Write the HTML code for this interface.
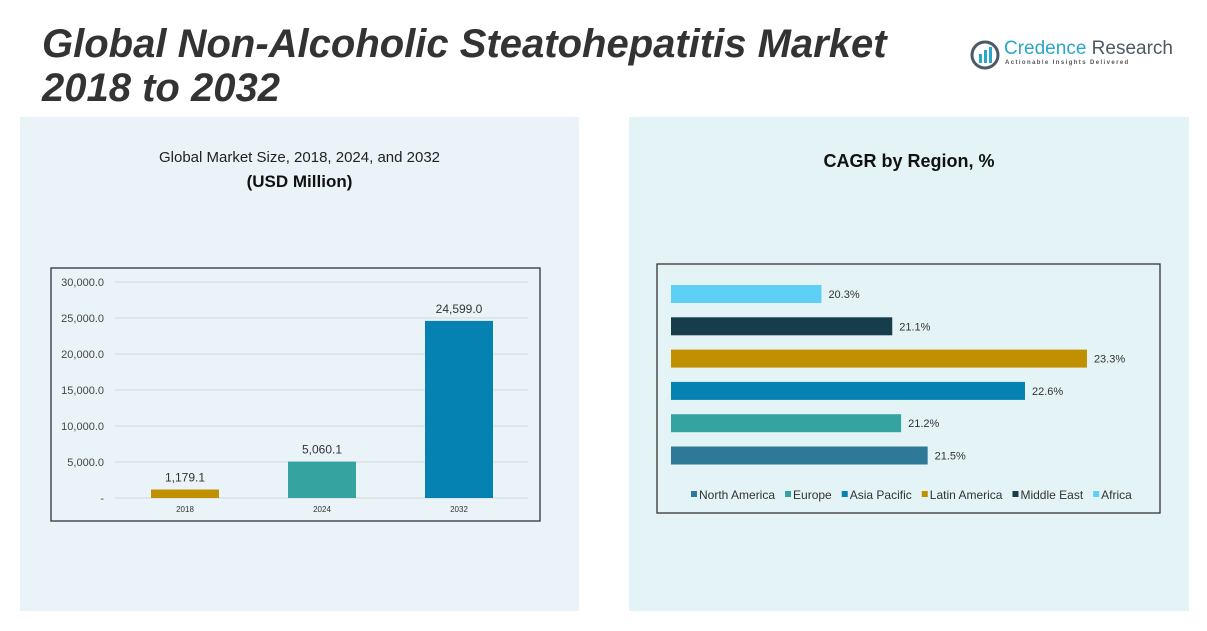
<!DOCTYPE html>
<html><head><meta charset="utf-8"><style>
body{margin:0;width:1207px;height:631px;background:#fff;position:relative;overflow:hidden;font-family:"Liberation Sans",sans-serif}
.abs{position:absolute}
</style></head><body>
<div class="abs" style="left:42px;top:22px;font-size:40px;line-height:44px;font-weight:bold;font-style:italic;color:#333;white-space:nowrap">Global Non-Alcoholic Steatohepatitis Market<br>2018 to 2032</div>
<div class="abs" style="left:970px;top:38px;width:220px;height:34px;white-space:nowrap">
<svg width="30" height="30" style="position:absolute;left:0;top:2px"><circle cx="15" cy="15" r="13" fill="none" stroke="#4a5a66" stroke-width="3"/><rect x="9" y="14" width="3" height="9" fill="#2aa6c9"/><rect x="14" y="10" width="3" height="13" fill="#2aa6c9"/><rect x="19" y="7" width="3" height="16" fill="#2aa6c9"/></svg>
<div style="position:absolute;left:34px;top:0;font-size:19px;color:#2aa6c9;white-space:nowrap">Credence <span style="color:#4a5a66">Research</span></div>
<div style="position:absolute;left:35px;top:22px;font-size:6px;letter-spacing:1.4px;color:#555;font-weight:bold;white-space:nowrap">Actionable Insights Delivered</div></div>
<div class="abs" style="left:20px;top:117px;width:559px;height:494px;background:#eaf4f8"></div>
<div class="abs" style="left:629px;top:117px;width:560px;height:494px;background:#e4f3f5"></div>
<div class="abs" style="left:20px;top:149px;width:559px;text-align:center;font-size:15px;color:#222">Global Market Size, 2018, 2024, and 2032</div>
<div class="abs" style="left:20px;top:172px;width:559px;text-align:center;font-size:17px;font-weight:bold;color:#111">(USD Million)</div>
<div class="abs" style="left:629px;top:151px;width:560px;text-align:center;font-size:18px;font-weight:bold;color:#111">CAGR by Region, %</div>
<svg class="abs" style="left:0;top:0" width="1207" height="631" id="svg">
<rect x="51" y="268" width="489" height="253" fill="none" stroke="#333" stroke-width="1.3"/>
<rect x="657" y="264" width="503" height="249" fill="none" stroke="#333" stroke-width="1.3"/>
</svg>
<script>
const years=["2018","2024","2032"];
const sizes=[1179.1,5060.1,24599.0];
const yTicks=[0,5000,10000,15000,20000,25000,30000];
const yTickLabels=["-","5,000.0","10,000.0","15,000.0","20,000.0","25,000.0","30,000.0"];
const regions=["Africa","Middle East","Latin America","Asia Pacific","Europe","North America"];
const cagr=[20.3,21.1,23.3,22.6,21.2,21.5];
const legendOrder=["North America","Europe","Asia Pacific","Latin America","Middle East","Africa"];
const colors={"North America":"#2e7898","Europe":"#35a3a0","Asia Pacific":"#0682b2","Latin America":"#c09000","Middle East":"#183d4a","Africa":"#5fd0f5"};
const barColors=["#c09000","#35a3a0","#0682b2"];
const NS="http://www.w3.org/2000/svg",svg=document.getElementById('svg');
function el(t,a,txt){const e=document.createElementNS(NS,t);for(const k in a)e.setAttribute(k,a[k]);if(txt!=null)e.textContent=txt;svg.appendChild(e);return e;}
const y=v=>498-v/30000*216;
const xc=i=>185+i*137;
yTicks.forEach((t,i)=>{
 const g=el('line',{x1:115,x2:528,y1:y(t),y2:y(t),stroke:'#d3d8da','stroke-width':1});
 
 const l=el('text',{x:104,y:y(t)+4,'text-anchor':'end','font-size':11,fill:'#444'},yTickLabels[i]);
 
});
years.forEach((yr,i)=>{
 const r=el('rect',{x:xc(i)-34,y:y(sizes[i]),width:68,height:498-y(sizes[i]),fill:barColors[i]});
 
 const v=el('text',{x:xc(i),y:y(sizes[i])-8,'text-anchor':'middle','font-size':12,fill:'#333'},sizes[i].toLocaleString('en-US',{minimumFractionDigits:1,maximumFractionDigits:1}));
 
 const c=el('text',{x:xc(i),y:512,'text-anchor':'middle','font-size':8,fill:'#333'},yr);
 
});
const hx=v=>671+(v-18.6)*88.5;
regions.forEach((r,i)=>{
 const cy=294+i*32.3;
 const b=el('rect',{x:671,y:cy-9,width:hx(cagr[i])-671,height:18,fill:colors[r]});
 
 const t=el('text',{x:hx(cagr[i])+7,y:cy+4,'font-size':11,fill:'#333'},cagr[i].toFixed(1)+'%');
 
});
let lx=691;
legendOrder.forEach(r=>{
 const m=el('rect',{x:lx,y:491,width:6,height:6,fill:colors[r]});
 
 const t=el('text',{x:lx+8,y:499,'font-size':12,fill:'#333'},r);
 
 lx+=8+t.getComputedTextLength()+10;
});
</script>
</body></html>
